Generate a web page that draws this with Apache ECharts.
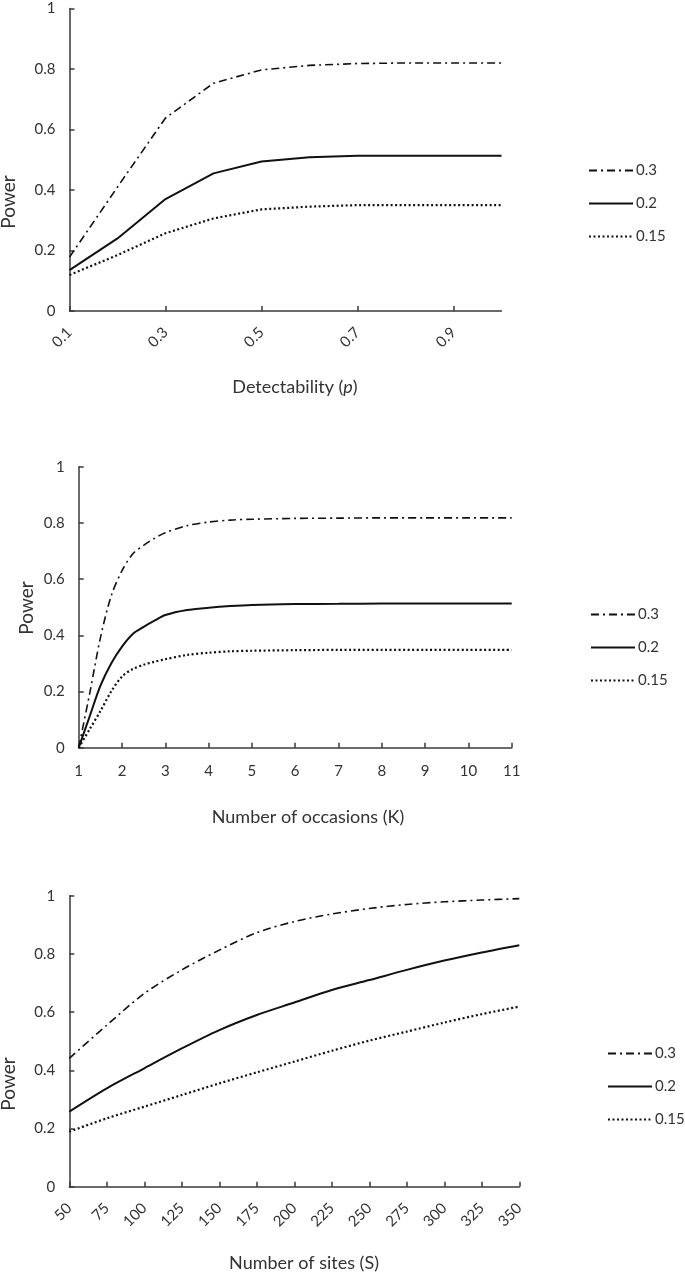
<!DOCTYPE html>
<html>
<head>
<meta charset="utf-8">
<script src="https://cdn.jsdelivr.net/npm/echarts@6/dist/echarts.min.js"></script>
<style>
  html, body { margin: 0; padding: 0; background: #fff; }
  #chart { width: 685px; height: 1278px; }
</style>
</head>
<body>
<div id="chart"></div>
<script>
// panel 1: detectability p
const pValues = ['0.1', '0.2', '0.3', '0.4', '0.5', '0.6', '0.7', '0.8', '0.9', '1']
const pPow30 = [0.178, 0.41, 0.638, 0.753, 0.797, 0.812, 0.818, 0.82, 0.82, 0.82]
const pPow20 = [0.135, 0.24, 0.37, 0.455, 0.494, 0.508, 0.513, 0.513, 0.513, 0.513]
const pPow15 = [0.119, 0.185, 0.257, 0.306, 0.336, 0.345, 0.35, 0.35, 0.35, 0.35]

// panel 2: number of occasions K
const kValues = [1, 1.25, 1.5, 1.75, 2, 2.25, 2.5, 2.75, 3, 3.5, 4, 4.5, 5, 6, 7, 8, 9, 10, 11]
const kPow30 = [0, 0.19, 0.39, 0.54, 0.63, 0.69, 0.72, 0.745, 0.765, 0.79, 0.803, 0.81, 0.813, 0.816, 0.817, 0.818, 0.818, 0.818, 0.818]
const kPow20 = [0, 0.11, 0.22, 0.3, 0.36, 0.405, 0.43, 0.452, 0.472, 0.49, 0.498, 0.504, 0.508, 0.511, 0.512, 0.513, 0.513, 0.513, 0.513]
const kPow15 = [0, 0.065, 0.13, 0.2, 0.253, 0.28, 0.295, 0.306, 0.315, 0.33, 0.338, 0.343, 0.345, 0.347, 0.348, 0.348, 0.348, 0.348, 0.348]

// panel 3: number of sites S
const sValues = [50, 75, 100, 125, 150, 175, 200, 225, 250, 275, 300, 325, 350]
const sPow30 = [0.441, 0.555, 0.664, 0.745, 0.813, 0.873, 0.911, 0.937, 0.956, 0.97, 0.979, 0.985, 0.99]
const sPow20 = [0.258, 0.338, 0.407, 0.475, 0.538, 0.59, 0.633, 0.676, 0.71, 0.745, 0.777, 0.805, 0.83]
const sPow15 = [0.189, 0.235, 0.275, 0.315, 0.355, 0.393, 0.43, 0.467, 0.502, 0.533, 0.564, 0.593, 0.619]

const seriesNames = ['0.3', '0.2', '0.15']

const font = 'Lato, "Open Sans", sans-serif'
const textColor = '#333'
const axisColor = '#3a3a3a'

const lineStyles = {
  '0.3': { color: '#111', width: 1.6, type: [8, 4, 2, 4] },
  '0.2': { color: '#111', width: 2, type: 'solid' },
  '0.15': { color: '#111', width: 2.2, type: [2, 2.5] }
}

function pairs(xs, ys) {
  return xs.map((x, i) => [x, ys[i]])
}

function yAxisFor(idx) {
  return {
    type: 'value',
    gridIndex: idx,
    min: 0,
    max: 1,
    interval: 0.2,
    axisLine: { show: true, lineStyle: { color: axisColor, width: 1.5 } },
    axisTick: { show: true, inside: true, length: 5, lineStyle: { color: axisColor, width: 1.5 } },
    axisLabel: { color: textColor, fontSize: 15, fontFamily: font, margin: 14 },
    splitLine: { show: false }
  }
}

function makeSeries(idx, name, data, smooth) {
  return {
    name: name,
    type: 'line',
    xAxisIndex: idx,
    yAxisIndex: idx,
    data: data,
    symbol: 'none',
    showSymbol: false,
    smooth: smooth,
    lineStyle: lineStyles[name],
    itemStyle: { color: '#111' },
    emphasis: { disabled: true }
  }
}

function legendAt(left, top) {
  return {
    orient: 'vertical',
    left: left,
    top: top,
    data: seriesNames,
    itemWidth: 44,
    itemHeight: 14,
    itemGap: 18,
    itemStyle: { opacity: 0 },
    textStyle: { color: textColor, fontSize: 15, fontFamily: font, padding: [0, 0, 0, -2] },
    selectedMode: false
  }
}

function axisTitle(x, y, text) {
  return {
    type: 'text',
    x: x,
    y: y,
    style: {
      text: text,
      fill: textColor,
      font: '18px ' + font,
      align: 'center',
      verticalAlign: 'middle',
      rich: {
        it: { fontStyle: 'italic', fontSize: 18, fontFamily: font, fill: textColor }
      }
    }
  }
}

function powerTitle(x, y) {
  return {
    type: 'text',
    x: x,
    y: y,
    rotation: Math.PI / 2,
    style: {
      text: 'Power',
      fill: textColor,
      font: '19px ' + font,
      align: 'center',
      verticalAlign: 'middle'
    }
  }
}

const chart = echarts.init(document.getElementById('chart'))

chart.setOption({
  animation: false,
  backgroundColor: '#fff',
  grid: [
    { left: 69.5, top: 8.5, width: 432, height: 302.5 },
    { left: 78.7, top: 466.7, width: 433, height: 281 },
    { left: 69.3, top: 895.7, width: 450, height: 291 }
  ],
  xAxis: [
    {
      type: 'category',
      gridIndex: 0,
      data: pValues,
      boundaryGap: false,
      axisLine: { show: true, lineStyle: { color: axisColor, width: 1.5 } },
      axisTick: { show: true, inside: true, length: 5, interval: 1, lineStyle: { color: axisColor, width: 1.5 } },
      axisLabel: { interval: 1, rotate: 45, color: textColor, fontSize: 15, fontFamily: font, margin: 19 }
    },
    {
      type: 'value',
      gridIndex: 1,
      min: 1,
      max: 11,
      interval: 1,
      axisLine: { show: true, lineStyle: { color: axisColor, width: 1.5 } },
      axisTick: { show: true, inside: true, length: 5, lineStyle: { color: axisColor, width: 1.5 } },
      axisLabel: { color: textColor, fontSize: 15, fontFamily: font, margin: 16 },
      splitLine: { show: false }
    },
    {
      type: 'value',
      gridIndex: 2,
      min: 50,
      max: 350,
      interval: 25,
      axisLine: { show: true, lineStyle: { color: axisColor, width: 1.5 } },
      axisTick: { show: true, inside: true, length: 5, lineStyle: { color: axisColor, width: 1.5 } },
      axisLabel: { rotate: 45, color: textColor, fontSize: 15, fontFamily: font, margin: 19 },
      splitLine: { show: false }
    }
  ],
  yAxis: [yAxisFor(0), yAxisFor(1), yAxisFor(2)],
  legend: [
    legendAt(583, 158),
    legendAt(585, 602),
    legendAt(602, 1041)
  ],
  graphic: [
    powerTitle(9, 202),
    powerTitle(27, 608),
    powerTitle(9, 1084),
    axisTitle(295, 387, 'Detectability ({it|p})'),
    axisTitle(308, 817, 'Number of occasions (K)'),
    axisTitle(304, 1263, 'Number of sites (S)')
  ],
  series: [
    makeSeries(0, '0.3', pPow30, false),
    makeSeries(0, '0.2', pPow20, false),
    makeSeries(0, '0.15', pPow15, false),
    makeSeries(1, '0.3', pairs(kValues, kPow30), 0.3),
    makeSeries(1, '0.2', pairs(kValues, kPow20), 0.3),
    makeSeries(1, '0.15', pairs(kValues, kPow15), 0.3),
    makeSeries(2, '0.3', pairs(sValues, sPow30), 0.3),
    makeSeries(2, '0.2', pairs(sValues, sPow20), 0.3),
    makeSeries(2, '0.15', pairs(sValues, sPow15), 0.3)
  ]
})
</script>
</body>
</html>
